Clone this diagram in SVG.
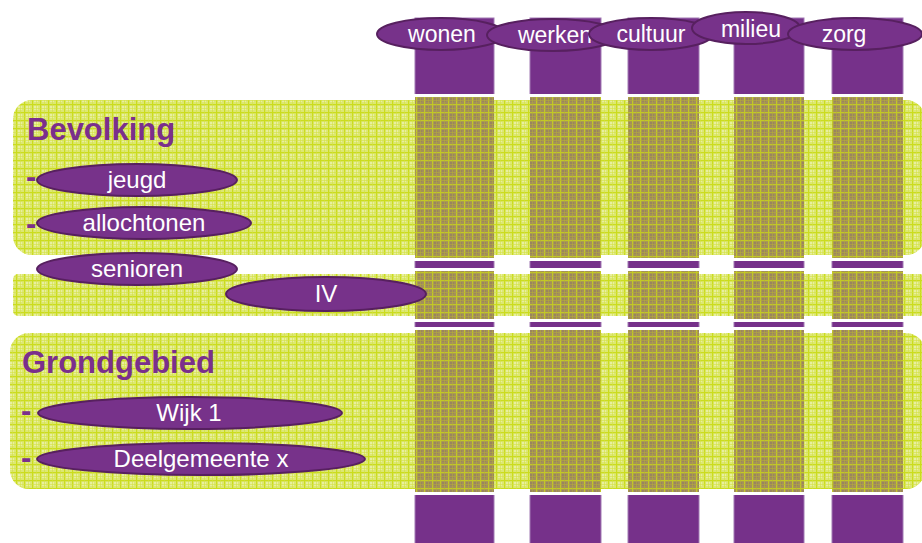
<svg xmlns="http://www.w3.org/2000/svg" width="922" height="543" viewBox="0 0 922 543">
<defs>
<pattern id="lightPat" width="8" height="8" patternUnits="userSpaceOnUse">
<rect width="8" height="8" fill="#dde872"/>
<rect x="2" y="2" width="4" height="4" fill="#e8efa0"/>
<rect x="0" y="0" width="8" height="1.2" fill="#cbdc1e"/>
<rect x="0" y="0" width="1.2" height="8" fill="#cbdc1e"/>
<rect x="0" y="4" width="8" height="0.6" fill="#d4e244"/>
<rect x="4" y="0" width="0.6" height="8" fill="#d4e244"/>
</pattern>
<pattern id="darkPat" width="8" height="8" patternUnits="userSpaceOnUse">
<rect width="8" height="8" fill="#a4905a"/>
<rect x="2" y="2" width="4" height="4" fill="#9a8460"/>
<rect x="0" y="0" width="8" height="1.2" fill="#c2c826"/>
<rect x="0" y="0" width="1.2" height="8" fill="#c2c826"/>
<rect x="0" y="4" width="8" height="0.6" fill="#b3aa3c"/>
<rect x="4" y="0" width="0.6" height="8" fill="#b3aa3c"/>
</pattern>
<style>
.col{fill:#76318a;stroke:#a27ab4;stroke-width:1}
.band{fill:url(#lightPat);stroke:#ffffff;stroke-width:6}
.dark{fill:url(#darkPat)}
.node{fill:#77328a;stroke:#57205f;stroke-width:2}
.lbl{font-family:"Liberation Sans",Arial,sans-serif;font-size:23px;fill:#ffffff;text-anchor:middle}
.lbl2{font-family:"Liberation Sans",Arial,sans-serif;font-size:24px;fill:#ffffff;text-anchor:middle}
.head{font-family:"Liberation Sans",Arial,sans-serif;font-size:31px;font-weight:bold;fill:#7a2f8c}
</style>
</defs>
<rect width="922" height="543" fill="#ffffff"/>
<g id="columns">
<rect class="col" x="415" y="18" width="79" height="530"/>
<rect class="col" x="530" y="18" width="71" height="530"/>
<rect class="col" x="628" y="18" width="71" height="530"/>
<rect class="col" x="734" y="18" width="70" height="530"/>
<rect class="col" x="832" y="18" width="71" height="530"/>
</g>
<g id="band-bevolking">
<rect class="band" x="10" y="97" width="918" height="161" rx="22"/>
<rect class="dark" x="415" y="97" width="79" height="161"/>
<rect class="dark" x="530" y="97" width="71" height="161"/>
<rect class="dark" x="628" y="97" width="71" height="161"/>
<rect class="dark" x="734" y="97" width="70" height="161"/>
<rect class="dark" x="832" y="97" width="71" height="161"/>
<text class="head" x="27" y="140">Bevolking</text>
<text class="head" x="26" y="187">-</text>
<text class="head" x="26" y="234">-</text>
</g>
<g id="band-iv">
<rect class="band" x="10" y="271" width="918" height="48" rx="8"/>
<rect class="dark" x="415" y="271" width="79" height="48"/>
<rect class="dark" x="530" y="271" width="71" height="48"/>
<rect class="dark" x="628" y="271" width="71" height="48"/>
<rect class="dark" x="734" y="271" width="70" height="48"/>
<rect class="dark" x="832" y="271" width="71" height="48"/>
</g>
<g id="band-grondgebied">
<rect class="band" x="7" y="330" width="921" height="162" rx="22"/>
<rect class="dark" x="415" y="330" width="79" height="162"/>
<rect class="dark" x="530" y="330" width="71" height="162"/>
<rect class="dark" x="628" y="330" width="71" height="162"/>
<rect class="dark" x="734" y="330" width="70" height="162"/>
<rect class="dark" x="832" y="330" width="71" height="162"/>
<text class="head" x="22" y="373">Grondgebied</text>
<text class="head" x="21" y="421">-</text>
<text class="head" x="21" y="468">-</text>
</g>
<g id="wonen"><ellipse class="node" cx="441" cy="34" rx="64" ry="16"/><text class="lbl" x="442" y="42">wonen</text></g>
<g id="werken"><ellipse class="node" cx="553" cy="35" rx="66" ry="16"/><text class="lbl" x="555" y="43">werken</text></g>
<g id="cultuur"><ellipse class="node" cx="651" cy="34" rx="62" ry="16"/><text class="lbl" x="651" y="42">cultuur</text></g>
<g id="milieu"><ellipse class="node" cx="746" cy="28" rx="54" ry="16"/><text class="lbl" x="751" y="37">milieu</text></g>
<g id="zorg"><ellipse class="node" cx="855" cy="34" rx="67" ry="16"/><text class="lbl" x="844" y="42">zorg</text></g>
<g id="jeugd"><ellipse class="node" cx="137" cy="180" rx="100" ry="16"/><text class="lbl2" x="137" y="188">jeugd</text></g>
<g id="allochtonen"><ellipse class="node" cx="144" cy="223" rx="107" ry="16"/><text class="lbl2" x="144" y="231">allochtonen</text></g>
<g id="senioren"><ellipse class="node" cx="137" cy="269" rx="100" ry="16"/><text class="lbl2" x="137" y="277">senioren</text></g>
<g id="iv"><ellipse class="node" cx="326" cy="294" rx="100" ry="17"/><text class="lbl2" x="326" y="302">IV</text></g>
<g id="wijk1"><ellipse class="node" cx="190" cy="413" rx="152" ry="16"/><text class="lbl2" x="189" y="421">Wijk 1</text></g>
<g id="deelgemeente"><ellipse class="node" cx="201" cy="459" rx="164" ry="16"/><text class="lbl2" x="201" y="467">Deelgemeente x</text></g>
<g id="connectors"/>
</svg>
